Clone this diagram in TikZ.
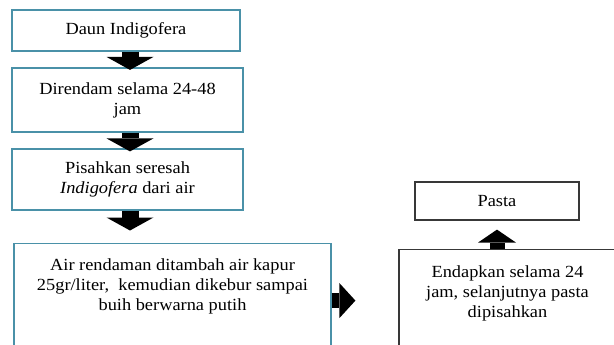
\documentclass[tikz,border=0pt]{standalone}
\usepackage{fontspec}
\setmainfont{Liberation Serif}[FakeStretch=1.08]
\usetikzlibrary{arrows.meta}
\definecolor{kotakbiru}{rgb}{0.29, 0.57, 0.66}
\definecolor{kotakhitam}{rgb}{0.22, 0.22, 0.22}

\begin{document}
\begin{tikzpicture}[x=1pt, y=-1pt,
    kotak/.style={draw=kotakbiru, line width=1.2pt, inner sep=2pt, font=\fontsize{17}{20}\selectfont},
    teks/.style={align=center},
    panahbawah/.style={line width=17pt, -{Triangle[width=47pt, length=13pt, line width=0pt]}},
    panahkanan/.style={line width=15pt, -{Triangle[width=35pt, length=16pt, line width=0pt]}},
    panahatas/.style={line width=15pt, -{Triangle[width=38pt, length=13pt, line width=0pt]}}]
        \useasboundingbox (0, 0) rectangle (614, 345);
        \clip (0, 0) rectangle (614, 345);

        % kolom kiri
        \node[kotak, teks, minimum width=228pt, minimum height=41pt] (daun) at (126, 30.5) {Daun Indigofera};
        \node[kotak, teks, minimum width=231pt, minimum height=64pt] (rendam) at (127.5, 100) {Direndam selama 24-48\\jam};
        \node[kotak, teks, minimum width=231pt, minimum height=61pt] (pisah) at (127.5, 179.5) {Pisahkan seresah\\\textit{Indigofera} dari air};
        \node[kotak, anchor=north, inner xsep=0pt, inner ysep=15pt] (kapur) at (172.5, 243)
            {\parbox[t][84pt][t]{317pt}{\centering Air rendaman ditambah air kapur\\25gr/liter,\ \ kemudian dikebur sampai\\buih berwarna putih}};

        % kolom kanan
        \node[kotak, draw=kotakhitam, anchor=north, inner xsep=0pt, inner ysep=16pt] (endap) at (507.5, 249)
            {\parbox[t][84pt][t]{217pt}{\centering Endapkan selama 24\\jam, selanjutnya pasta\\dipisahkan}};
        \node[kotak, teks, draw=kotakhitam, minimum width=164pt, minimum height=38pt] (pasta) at (497, 201) {Pasta};

        % panah
        \draw[panahbawah, shorten >=-2.5pt] ([xshift=4pt]daun.south) -- ([xshift=4pt]daun.south |- rendam.north);
        \draw[panahbawah, shorten >=-3pt] ([xshift=2.5pt]rendam.south) -- ([xshift=2.5pt]pisah.north);
        \draw[panahbawah, shorten >=12.5pt] ([xshift=2.5pt]pisah.south) -- ([xshift=2.5pt]pisah.south |- kapur.north);
        \draw[panahkanan, shorten >=43pt] (kapur.east) -- (kapur.east -| endap.west);
        \draw[panahatas, shorten >=9pt] (pasta.south |- endap.north) -- (pasta.south);
\end{tikzpicture}
\end{document}
